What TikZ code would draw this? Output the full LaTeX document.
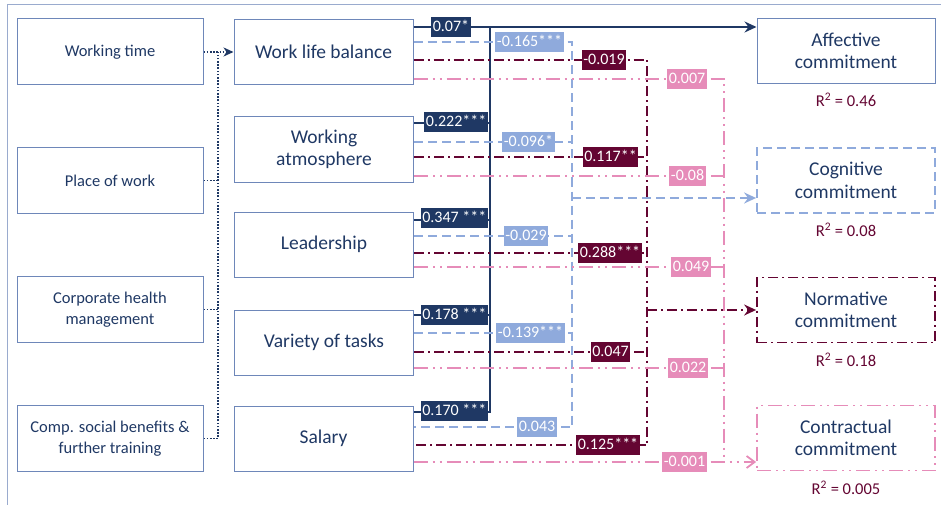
\documentclass[tikz,border=0pt]{standalone}
\usepackage{fontspec}
\setmainfont{Carlito}
\usetikzlibrary{arrows.meta,positioning}
\definecolor{navy}{RGB}{31,56,100}
\definecolor{frameblue}{RGB}{110,135,185}
\definecolor{lightblue}{RGB}{143,170,220}
\definecolor{maroon}{RGB}{100,5,50}
\definecolor{pinkish}{RGB}{230,140,185}
\tikzset{
  box/.style={draw=frameblue,line width=1pt,text=navy,align=center,inner sep=0pt,
    minimum width=179pt,minimum height=65pt},
  srcbox/.style={box,minimum width=186pt,minimum height=66pt,font=\fontsize{16.5}{20.5}\selectfont},
  midbox/.style={box,font=\fontsize{19.5}{22.5}\selectfont},
  outbox/.style={box,minimum width=178pt,font=\fontsize{19.5}{22.5}\selectfont},
  coef/.style={text=white,inner xsep=1.5pt,inner ysep=2.5pt,text height=11.5pt,text depth=3pt,
    font=\fontsize{16}{18}\selectfont},
  rsq/.style={text=maroon,inner sep=0pt,font=\fontsize{16.5}{19}\selectfont},
  dotln/.style={navy,line width=1.8pt,dash pattern=on 1.6pt off 1.6pt},
  navyln/.style={navy,line width=1.8pt},
  blueln/.style={lightblue,line width=1.8pt,dash pattern=on 9pt off 5pt},
  maroonln/.style={maroon,line width=1.8pt,dash pattern=on 10pt off 4pt on 2pt off 4pt},
  pinkln/.style={pinkish,line width=1.8pt,dash pattern=on 14pt off 5pt on 2pt off 5pt on 2pt off 5pt}
}
\begin{document}
\begin{tikzpicture}[x=1pt,y=-1pt]
\useasboundingbox (0,0) rectangle (941,505);
\draw[frameblue!70,line width=1pt] (941,5) -- (7,5) -- (7,505);
% determinants
\node[srcbox] (wt) at (110,52) {Working time};
\node[srcbox] (pw) at (110,180.5) {Place of work};
\node[srcbox] (chm) at (110,309.5) {Corporate health\\management};
\node[srcbox] (csb) at (110,438.5) {Comp. social benefits \&\\further training};
% job factors
\node[midbox] (wlb) at (323.5,52) {Work life balance};
\node[midbox] (atm) at (324,149.5) {Working\\atmosphere};
\node[midbox] (lead) at (324,244.5) {Leadership};
\node[midbox] (var) at (324,342.5) {Variety of tasks};
\node[midbox] (sal) at (323.5,438.5) {Salary};
% commitment
\node[outbox] (aff) at (846,51) {Affective\\commitment};
\node[outbox,draw=lightblue,line width=1.8pt,dash pattern=on 9pt off 5pt] (cog) at (846,180.5) {Cognitive\\commitment};
\node[outbox,draw=maroon,line width=1.8pt,dash pattern=on 10pt off 4pt on 2pt off 4pt] (nor) at (846,310) {Normative\\commitment};
\node[outbox,draw=pinkish,line width=1.8pt,dash pattern=on 14pt off 5pt on 2pt off 5pt on 2pt off 5pt] (con) at (846,438) {Contractual\\commitment};
\node[rsq,below=9pt of aff] (raff) {R\textsuperscript{2} = 0.46};
\node[rsq,below=9pt of cog] (rcog) {R\textsuperscript{2} = 0.08};
\node[rsq,below=9pt of nor] (rnor) {R\textsuperscript{2} = 0.18};
\node[rsq,below=9pt of con] (rcon) {R\textsuperscript{2} = 0.005};
% dotted bus
\coordinate (bt) at (218,52);
\coordinate (bb) at (218,438.5);
\draw[dotln] (csb.east) -- (bb) -- (bt);
\draw[dotln] (pw.east) -- (pw.east -| bt);
\draw[dotln] (chm.east) -- (chm.east -| bt);
\draw[dotln,-{Stealth[length=10pt,width=9pt,inset=3pt]}] (wt.east) -- (wlb.west);
% affective
\coordinate (nt) at (490,27);
\coordinate (nb) at (490,412);
\draw[navyln,-{Stealth[length=12pt,width=11pt,inset=4pt]}] (wlb.east |- nt) -- (aff.west |- nt);
\draw[navyln] (nt) -- (nb) -- (sal.east |- nb);
\draw[navyln] (atm.east |- 0,123) -- (nt |- 0,123);
\draw[navyln] (lead.east |- 0,220) -- (nt |- 0,220);
\draw[navyln] (var.east |- 0,315) -- (nt |- 0,315);
% cognitive
\coordinate (lt) at (572,42);
\coordinate (lb) at (572,427);
\draw[blueln] (wlb.east |- lt) -- (lt) -- (lb) -- (sal.east |- lb);
\draw[blueln] (atm.east |- 0,142) -- (lt |- 0,142);
\draw[blueln] (lead.east |- 0,236) -- (lt |- 0,236);
\draw[blueln] (var.east |- 0,333) -- (lt |- 0,333);
\draw[blueln,-{Stealth[length=12pt,width=11pt,inset=4pt]}] (lt |- 0,198) -- (cog.west |- 0,198);
% normative
\coordinate (mt) at (647,60);
\coordinate (mb) at (647,445);
\draw[maroonln] (wlb.east |- mt) -- (mt) -- (mb) -- (sal.east |- mb);
\draw[maroonln] (atm.east |- 0,157) -- (mt |- 0,157);
\draw[maroonln] (lead.east |- 0,253) -- (mt |- 0,253);
\draw[maroonln] (var.east |- 0,352) -- (mt |- 0,352);
\draw[maroonln,-{Stealth[length=12pt,width=11pt,inset=4pt]}] (mt |- nor.west) -- (nor.west);
% contractual
\coordinate (pt) at (724,79);
\coordinate (pb) at (724,462);
\draw[pinkln] (wlb.east |- pt) -- (pt) -- (pb);
\draw[pinkln] (atm.east |- 0,176) -- (pt |- 0,176);
\draw[pinkln] (lead.east |- 0,267) -- (pt |- 0,267);
\draw[pinkln] (var.east |- 0,368) -- (pt |- 0,368);
\draw[pinkln,-{Straight Barb[length=8pt,width=12pt]}] (sal.east |- pb) -- (con.west |- pb);
% coefficients
\node[coef,fill=navy] (an1) at (451,27) {0.07*};
\node[coef,fill=navy,anchor=east] (an2) at (488,122) {0.222***};
\node[coef,fill=navy,anchor=east] (an3) at (488,218) {0.347 ***};
\node[coef,fill=navy,anchor=east] (an4) at (488,315) {0.178 ***};
\node[coef,fill=navy,anchor=east] (an5) at (488,411) {0.170 ***};
\node[coef,fill=lightblue] (cn1) at (529.5,42) {-0.165***};
\node[coef,fill=lightblue] (cn2) at (528.5,142) {-0.096*};
\node[coef,fill=lightblue] (cn3) at (526,236) {-0.029};
\node[coef,fill=lightblue] (cn4) at (530.5,333) {-0.139***};
\node[coef,fill=lightblue] (cn5) at (537,427) {0.043};
\node[coef,fill=maroon] (nn1) at (604,60) {-0.019};
\node[coef,fill=maroon] (nn2) at (610.5,157) {0.117**};
\node[coef,fill=maroon] (nn3) at (610,253) {0.288***};
\node[coef,fill=maroon] (nn4) at (610.5,352) {0.047};
\node[coef,fill=maroon] (nn5) at (608,445) {0.125***};
\node[coef,fill=pinkish] (pn1) at (687,79) {0.007};
\node[coef,fill=pinkish] (pn2) at (687.5,176) {-0.08};
\node[coef,fill=pinkish] (pn3) at (691,267) {0.049};
\node[coef,fill=pinkish] (pn4) at (688,368) {0.022};
\node[coef,fill=pinkish] (pn5) at (684.5,462) {-0.001};
\end{tikzpicture}
\end{document}
